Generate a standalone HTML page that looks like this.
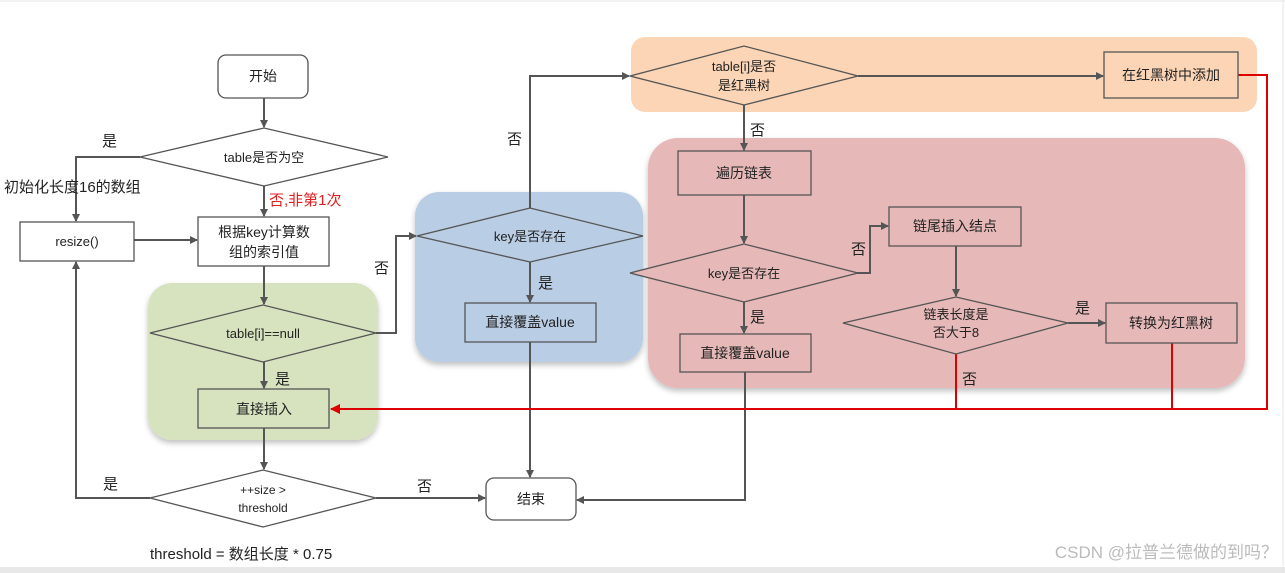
<!DOCTYPE html>
<html><head><meta charset="utf-8"><style>
html,body{margin:0;padding:0;background:#fff;}
svg{display:block;}
text{font-family:"Liberation Sans","Noto Sans CJK SC",sans-serif;fill:#222;}
</style></head><body>
<svg width="1285" height="573" viewBox="0 0 1285 573" xmlns="http://www.w3.org/2000/svg">
<defs>
<marker id="a" markerWidth="8" markerHeight="8" refX="7" refY="4" orient="auto" markerUnits="userSpaceOnUse"><path d="M0,0 L8,4 L0,8 z" fill="#555"/></marker>
<marker id="r" markerWidth="10" markerHeight="10" refX="9" refY="5" orient="auto" markerUnits="userSpaceOnUse"><path d="M0,0 L10,5 L0,10 z" fill="#d00"/></marker>
<filter id="sh" x="-5%" y="-5%" width="110%" height="115%"><feDropShadow dx="0" dy="3" stdDeviation="3" flood-opacity="0.25"/></filter>
</defs>
<rect x="0" y="0" width="1285" height="573" fill="#fff"/>
<rect x="0" y="567" width="1285" height="6" fill="#e8e8e8"/>
<line x1="0" y1="1" x2="1285" y2="1" stroke="#e4e4e4"/>
<line x1="1283" y1="0" x2="1283" y2="573" stroke="#e4e4e4"/>

<!-- backgrounds -->
<rect x="148" y="283" width="230" height="157" rx="24" fill="#d7e3bf" filter="url(#sh)"/>
<rect x="415" y="192" width="228" height="170" rx="24" fill="#b9cde5" filter="url(#sh)"/>
<rect x="631" y="37" width="626" height="75" rx="14" fill="#fbd5b5"/>
<rect x="648" y="138" width="597" height="250" rx="30" fill="#e6b9b8" filter="url(#sh)"/>

<g stroke="#555" stroke-width="2" fill="none">
<line x1="264" y1="98" x2="264" y2="127" marker-end="url(#a)"/>
<line x1="264" y1="186" x2="264" y2="216" marker-end="url(#a)"/>
<polyline points="140,157 76,157 76,221" marker-end="url(#a)"/>
<line x1="134" y1="240" x2="197" y2="240" marker-end="url(#a)"/>
<line x1="264" y1="266" x2="264" y2="304" marker-end="url(#a)"/>
<polyline points="376,333 396,333 396,236 416,236" marker-end="url(#a)"/>
<line x1="264" y1="362" x2="264" y2="388" marker-end="url(#a)"/>
<line x1="264" y1="428" x2="264" y2="469" marker-end="url(#a)"/>
<polyline points="150,498 76,498 76,262" marker-end="url(#a)"/>
<line x1="376" y1="498" x2="485" y2="498" marker-end="url(#a)"/>
<line x1="530" y1="262" x2="530" y2="302" marker-end="url(#a)"/>
<line x1="530" y1="342" x2="530" y2="477" marker-end="url(#a)"/>
<polyline points="530,208 530,76 629,76" marker-end="url(#a)"/>
<line x1="858" y1="76" x2="1103" y2="76" marker-end="url(#a)"/>
<line x1="744" y1="105" x2="744" y2="150" marker-end="url(#a)"/>
<line x1="744" y1="195" x2="744" y2="243" marker-end="url(#a)"/>
<line x1="744" y1="302" x2="744" y2="333" marker-end="url(#a)"/>
<polyline points="807,273 870,273 870,226 888,226" marker-end="url(#a)"/>
<line x1="956" y1="246" x2="956" y2="296" marker-end="url(#a)"/>
<line x1="1068" y1="323" x2="1105" y2="323" marker-end="url(#a)"/>
<polyline points="745,372 745,500 577,500" marker-end="url(#a)"/>
</g>
<g stroke="#d00" stroke-width="2" fill="none">
<polyline points="1238,75 1267,75 1267,409 331,409" marker-end="url(#r)"/>
<line x1="956" y1="354" x2="956" y2="409"/>
<line x1="1172" y1="343" x2="1172" y2="409"/>
</g>

<!-- shapes -->
<g stroke="#555" stroke-width="1.3">
<rect x="218" y="55" width="90" height="43" rx="8" fill="#fff"/>
<polygon points="140,157 264,128 388,157 264,186" fill="#fff"/>
<rect x="20" y="222" width="114" height="39" fill="#fff"/>
<rect x="198" y="217" width="131" height="49" fill="#fff"/>
<polygon points="150,333 263,305 376,333 263,362" fill="#d7e3bf"/>
<rect x="198" y="389" width="131" height="39" fill="#d7e3bf"/>
<polygon points="150,498 263,470 376,498 263,527" fill="#fff"/>
<rect x="486" y="478" width="90" height="42" rx="8" fill="#fff"/>
<polygon points="417,236 530,208 643,236 530,262" fill="#b9cde5"/>
<rect x="465" y="303" width="131" height="39" fill="#b9cde5"/>
<polygon points="630,76 744,46 858,76 744,105" fill="#fbd5b5"/>
<rect x="1104" y="52" width="134" height="46" fill="#fbd5b5"/>
<rect x="678" y="151" width="133" height="44" fill="#e6b9b8"/>
<polygon points="630,273 744,244 858,273 744,302" fill="#e6b9b8"/>
<rect x="889" y="207" width="132" height="39" fill="#e6b9b8"/>
<polygon points="843,323 956,297 1068,323 956,354" fill="#e6b9b8"/>
<rect x="1106" y="303" width="131" height="40" fill="#e6b9b8"/>
<rect x="680" y="334" width="131" height="38" fill="#e6b9b8"/>
</g>

<g font-size="14" text-anchor="middle">
<text x="263" y="81">开始</text>
<text x="264" y="162" font-size="13">table是否为空</text>
<text x="77" y="246" font-size="13">resize()</text>
<text x="264" y="237">根据key计算数</text>
<text x="264" y="257">组的索引值</text>
<text x="263" y="338" font-size="13">table[i]==null</text>
<text x="264" y="414">直接插入</text>
<text x="263" y="494" font-size="12">++size &gt;</text>
<text x="263" y="512" font-size="12">threshold</text>
<text x="531" y="504">结束</text>
<text x="530" y="241" font-size="13">key是否存在</text>
<text x="530" y="327">直接覆盖value</text>
<text x="744" y="71" font-size="13">table[i]是否</text>
<text x="744" y="90" font-size="13">是红黑树</text>
<text x="1171" y="80">在红黑树中添加</text>
<text x="744" y="178">遍历链表</text>
<text x="744" y="278" font-size="13">key是否存在</text>
<text x="955" y="231">链尾插入结点</text>
<text x="956" y="319" font-size="13">链表长度是</text>
<text x="956" y="337" font-size="13">否大于8</text>
<text x="1171" y="328">转换为红黑树</text>
<text x="745" y="358">直接覆盖value</text>
</g>
<g font-size="15">
<text x="102" y="146">是</text>
<text x="4" y="192">初始化长度16的数组</text>
<text x="269" y="205" style="fill:#e02020">否,非第1次</text>
<text x="374" y="273">否</text>
<text x="275" y="384">是</text>
<text x="103" y="489">是</text>
<text x="417" y="491">否</text>
<text x="150" y="559">threshold = 数组长度 * 0.75</text>
<text x="538" y="288">是</text>
<text x="507" y="144">否</text>
<text x="750" y="135">否</text>
<text x="851" y="254">否</text>
<text x="750" y="322">是</text>
<text x="1075" y="313">是</text>
<text x="962" y="384">否</text>
</g>
<text x="1278" y="558" font-size="17" text-anchor="end" style="fill:#bbb">CSDN @拉普兰德做的到吗？</text>
</svg>
</body></html>
